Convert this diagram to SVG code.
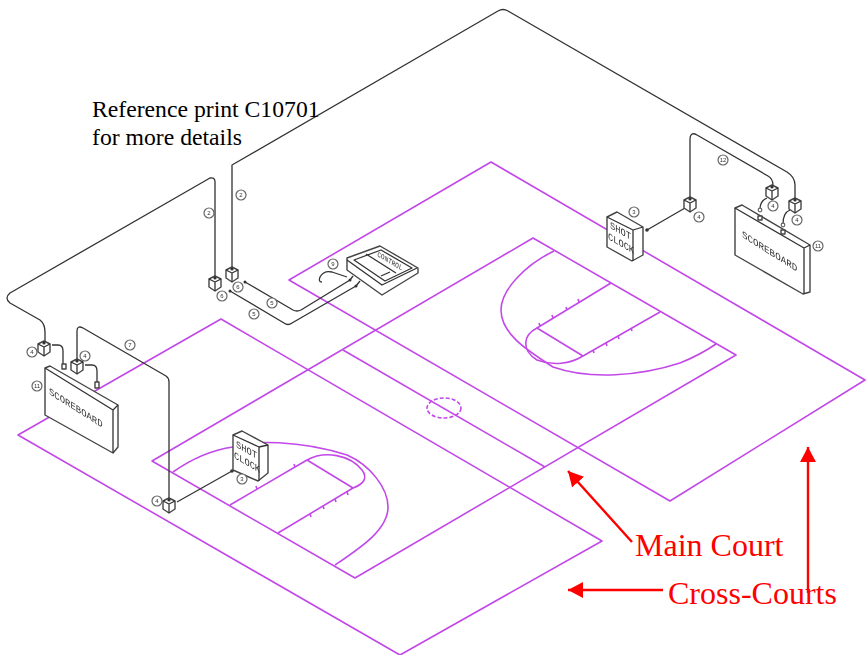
<svg xmlns="http://www.w3.org/2000/svg" width="866" height="655" viewBox="0 0 866 655">
<style>
.c{fill:none;stroke:#c248e8;stroke-width:1.6;stroke-linejoin:round}
.w{fill:none;stroke:#333;stroke-width:1.3;stroke-linejoin:round}
.b{fill:#fff;stroke:#444;stroke-width:1.4;stroke-linejoin:round}
.l{fill:#fff;stroke:#666;stroke-width:1.2}
.d{fill:#333}
.n{font:6px "Liberation Sans",sans-serif;fill:#333;text-anchor:middle}
.s{font:10px "Liberation Mono",monospace;fill:#333}
.t{font:23.7px "Liberation Serif",serif;fill:#000}
.r{font:32px "Liberation Serif",serif;fill:#f00}
.a{stroke:#f00;stroke-width:2.4;fill:none;marker-end:url(#ah)}
</style>
<defs>
<marker id="ah" markerUnits="userSpaceOnUse" markerWidth="16" markerHeight="16" refX="15" refY="8" orient="auto"><path d="M0 0L15 8L0 16Z" fill="#f00"/></marker>
<filter id="soft" x="-5%" y="-5%" width="110%" height="110%"><feGaussianBlur stdDeviation="0.45"/></filter>
<g id="cube"><path class="b" d="M-6 -5L0 -8L6 -5V3L0 7L-6 3Z"/><path class="w" d="M-6 -5L0 -2L6 -5M0 -2V7"/><circle class="d" cx="0" cy="-6" r="1.6"/></g>
</defs>
<g id="courts" filter="url(#soft)">
<path class="c" d="M289 280L491 162L865 380L670 501Z"/>
<path class="c" d="M221 319L18 435L400 655L602 541Z"/>
<path class="c" d="M152 461L533 238L736 355L355 578Z"/>
<path class="c" d="M343 350L545 467"/>
<ellipse class="c" cx="444" cy="408" rx="17" ry="10" stroke-dasharray="4 2"/>
<path class="c" d="M173 472C190 460 212 450 233 447C250 440 300 440 347 455C370 465 388 488 388 507C388 530 360 548 335 565"/>
<path class="c" d="M230 505L307 460L353 488L278 533"/>
<path class="c" d="M307 460C325 450 350 455 362 470C368 478 364 484 353 488"/>
<path class="c" d="M257 489l-1 -3M295 467l-1 -3M310 514l1 3M323 506l1 3M335 499l1 3M347 492l1 3"/>
<path class="c" d="M554 251C525 265 501 290 501 310C501 335 530 352 553 367C590 380 640 376 680 363Q700 355 716 344"/>
<path class="c" d="M611 283L537 328L583 356L660 312"/>
<path class="c" d="M537 328C523 335 521 350 537 360C553 366 570 364 583 356"/>
<path class="c" d="M540 326l-1 -3M553 318l-1 -3M567 310l-1 -3M579 302l-1 -3M593 350l1 3M606 343l1 3M618 336l1 3M631 328l1 3"/>
</g>
<g id="connectors" filter="url(#soft)">
<path class="w" d="M232 268V165L498 11Q503 8 508 11L787 172Q795 177 795 185V200"/>
<path class="w" d="M215 277V182Q215 177 210 178L10 293Q4 298 10 303L40 320Q45 324 45 332V342"/>
<path class="w" d="M77 360V331Q77 325 83 328L166 376Q169 378 169 382V500"/>
<path class="w" d="M177 502L232 471"/>
<path class="w" d="M245 282L293 310Q297 312 301 310L350 280L353 276"/>
<path class="w" d="M230 291L284 323Q288 326 292 323L356 286L360 281"/>
<path class="w" d="M647 230L685 208"/>
<path class="w" d="M690 198V140Q690 131 697 135L768 176Q773 179 773 185V188"/>
<path class="w" d="M52 345H58Q63 345 63 351V365"/>
<path class="w" d="M85 365H92Q97 365 97 371V383"/>
<path class="w" d="M767 198C762 200 760 203 760 209"/>
<path class="w" d="M790 210C785 212 783 216 783 224"/>
<path class="w" d="M347 277L332 272Q324 270 320 277Q318 282 322 282"/>
<circle class="d" cx="232" cy="471" r="1.8"/><circle class="d" cx="647" cy="230" r="1.8"/><circle class="d" cx="350" cy="280" r="1.5"/><circle class="d" cx="356" cy="286" r="1.5"/><circle class="d" cx="245" cy="282" r="1.5"/><circle class="d" cx="230" cy="291" r="1.5"/>
<circle class="l" cx="760" cy="210" r="1.8"/><circle class="l" cx="783" cy="225" r="1.8"/>
</g>
<g id="scoreboard-left" filter="url(#soft)">
<path class="b" d="M45 368L50 366L118 405V447L113 453L45 415Z"/>
<path class="w" d="M45 368L113 410V453M113 410L118 405"/>
<rect class="b" x="62" y="364" width="4" height="5"/><rect class="b" x="95" y="382" width="4" height="6"/>
<text class="s" transform="matrix(.85 .54 0 1 49 394)" textLength="63" lengthAdjust="spacingAndGlyphs">SCOREBOARD</text>
<circle class="l" cx="37" cy="386" r="5"/><text class="n" x="37" y="388">11</text>
</g>
<g id="device-a1" filter="url(#soft)"><use href="#cube" x="44" y="349"/><circle class="l" cx="32" cy="352" r="5"/><text class="n" x="32" y="354">4</text></g>
<g id="device-a2" filter="url(#soft)"><use href="#cube" x="77" y="367"/><circle class="l" cx="85" cy="356" r="5"/><text class="n" x="85" y="358">4</text></g>
<g id="device-a3" filter="url(#soft)"><use href="#cube" x="169" y="506"/><circle class="l" cx="157" cy="501" r="5"/><text class="n" x="157" y="503">4</text></g>
<g id="shot-clock-left" filter="url(#soft)">
<path class="b" d="M233 435L242 431L268 445V473L258 481L233 470Z"/>
<path class="w" d="M233 435L259 447V481M259 447L268 445"/>
<text class="s" transform="matrix(.87 .5 0 1 236 447)">SHOT</text>
<text class="s" transform="matrix(.87 .5 0 1 234 458)">CLOCK</text>
<circle class="l" cx="242" cy="479" r="5"/><text class="n" x="242" y="481">3</text>
</g>
<g id="device-b1" filter="url(#soft)"><use href="#cube" x="215" y="284"/><circle class="l" cx="222" cy="296" r="5"/><text class="n" x="222" y="298">6</text></g>
<g id="device-b2" filter="url(#soft)"><use href="#cube" x="232" y="275"/><circle class="l" cx="238" cy="287" r="5"/><text class="n" x="238" y="289">6</text></g>
<g id="console" filter="url(#soft)">
<path class="b" d="M347 258L380 246L418 268V273L382 295L347 270Z"/>
<path class="w" d="M347 260L382 285L417 268M354 260L381 250L412 268L385 281ZM366 254L396 273M381 276L390 272"/>
<text class="s" transform="matrix(.85 .5 -.2 1 377 256)" style="font-size:7px">CONTROL</text>
<circle class="l" cx="333" cy="264" r="5"/><text class="n" x="333" y="266">9</text>
</g>
<g id="labels" filter="url(#soft)">
<circle class="l" cx="130" cy="345" r="5"/><text class="n" x="130" y="347">7</text>
<circle class="l" cx="209" cy="213" r="5"/><text class="n" x="209" y="215">2</text>
<circle class="l" cx="241" cy="195" r="5"/><text class="n" x="241" y="197">2</text>
<circle class="l" cx="272" cy="303" r="5"/><text class="n" x="272" y="305">5</text>
<circle class="l" cx="254" cy="314" r="5"/><text class="n" x="254" y="316">5</text>
<circle class="l" cx="723" cy="160" r="5"/><text class="n" x="723" y="162">12</text>
</g>
<g id="shot-clock-right" filter="url(#soft)">
<path class="b" d="M607 217L617 212L643 227V255L632 261L607 247Z"/>
<path class="w" d="M607 217L633 230V261M633 230L643 227"/>
<text class="s" transform="matrix(.87 .5 0 1 610 228)">SHOT</text>
<text class="s" transform="matrix(.87 .5 0 1 608 239)">CLOCK</text>
<circle class="l" cx="634" cy="212" r="5"/><text class="n" x="634" y="214">3</text>
</g>
<g id="device-c1" filter="url(#soft)"><use href="#cube" x="690" y="205"/><circle class="l" cx="699" cy="217" r="5"/><text class="n" x="699" y="219">4</text></g>
<g id="device-c2" filter="url(#soft)"><use href="#cube" x="772" y="193"/><circle class="l" cx="773" cy="206" r="5"/><text class="n" x="773" y="208">4</text></g>
<g id="device-c3" filter="url(#soft)"><use href="#cube" x="795" y="206"/><circle class="l" cx="797" cy="220" r="5"/><text class="n" x="797" y="222">4</text></g>
<g id="scoreboard-right" filter="url(#soft)">
<path class="b" d="M735 208L742 205L810 245V292L803 294L735 255Z"/>
<path class="w" d="M735 208L804 248V294M804 248L810 245"/>
<rect class="b" x="758" y="216" width="4" height="4"/><rect class="b" x="781" y="230" width="4" height="4"/>
<text class="s" transform="matrix(.85 .54 0 1 742 237)" textLength="65" lengthAdjust="spacingAndGlyphs">SCOREBOARD</text>
<circle class="l" cx="818" cy="246" r="5"/><text class="n" x="818" y="248">11</text>
</g>
<text class="t" x="92" y="117">Reference print C10701</text>
<text class="t" x="92" y="145">for more details</text>
<g id="arrows">
<path class="a" d="M632 542L568 471"/>
<path class="a" d="M663 590H568"/>
<path class="a" d="M808 593V447"/>
</g>
<text class="r" x="635" y="556">Main Court</text>
<text class="r" x="668" y="604">Cross-Courts</text>
</svg>
